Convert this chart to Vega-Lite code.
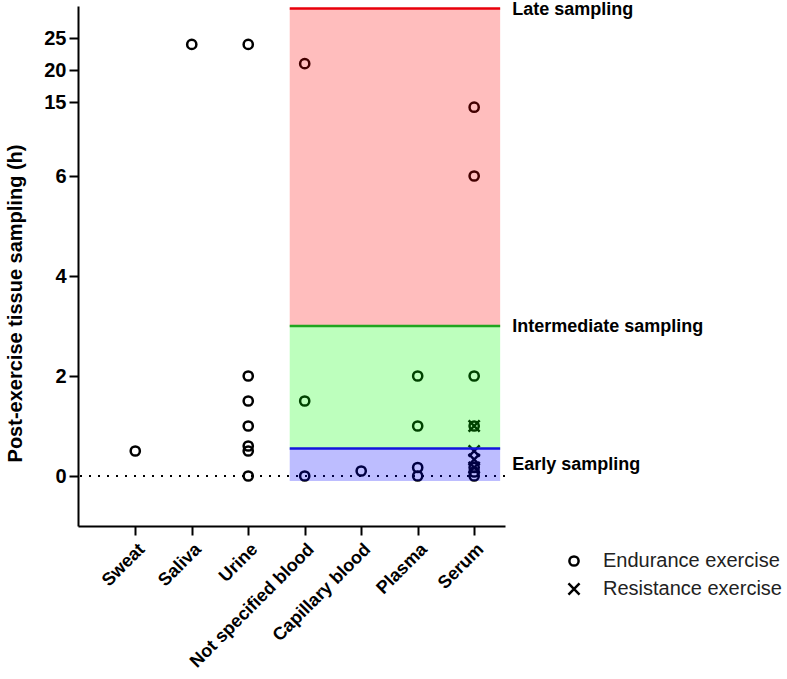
{
  "$schema": "https://vega.github.io/schema/vega-lite/v6.json",
  "width": 427,
  "height": 520,
  "autosize": {"type": "none"},
  "padding": {"left": 78, "top": 6, "right": 282, "bottom": 153},
  "background": "white",
  "config": {
    "font": "Liberation Sans",
    "view": {"stroke": null},
    "axis": {
      "domainColor": "black",
      "domainWidth": 2,
      "tickColor": "black",
      "tickWidth": 2,
      "tickSize": 9,
      "grid": false,
      "labelColor": "black",
      "labelFont": "Liberation Sans",
      "labelFontWeight": "bold",
      "labelFontSize": 20,
      "labelLimit": 400,
      "titleColor": "black",
      "titleFont": "Liberation Sans",
      "titleFontWeight": "bold",
      "titleFontSize": 20
    }
  },
  "datasets": {
    "points": [
      {"tissue": "Sweat", "hours": 0.5, "exercise": "Endurance exercise"},
      {"tissue": "Saliva", "hours": 24, "exercise": "Endurance exercise"},
      {"tissue": "Urine", "hours": 24, "exercise": "Endurance exercise"},
      {"tissue": "Urine", "hours": 2, "exercise": "Endurance exercise"},
      {"tissue": "Urine", "hours": 1.5, "exercise": "Endurance exercise"},
      {"tissue": "Urine", "hours": 1, "exercise": "Endurance exercise"},
      {"tissue": "Urine", "hours": 0.6, "exercise": "Endurance exercise"},
      {"tissue": "Urine", "hours": 0.5, "exercise": "Endurance exercise"},
      {"tissue": "Urine", "hours": 0, "exercise": "Endurance exercise"},
      {"tissue": "Not specified blood", "hours": 21, "exercise": "Endurance exercise"},
      {"tissue": "Not specified blood", "hours": 1.5, "exercise": "Endurance exercise"},
      {"tissue": "Not specified blood", "hours": 0, "exercise": "Endurance exercise"},
      {"tissue": "Capillary blood", "hours": 0.1, "exercise": "Endurance exercise"},
      {"tissue": "Plasma", "hours": 2, "exercise": "Endurance exercise"},
      {"tissue": "Plasma", "hours": 1, "exercise": "Endurance exercise"},
      {"tissue": "Plasma", "hours": 0.17, "exercise": "Endurance exercise"},
      {"tissue": "Plasma", "hours": 0, "exercise": "Endurance exercise"},
      {"tissue": "Serum", "hours": 14.2, "exercise": "Endurance exercise"},
      {"tissue": "Serum", "hours": 6, "exercise": "Endurance exercise"},
      {"tissue": "Serum", "hours": 2, "exercise": "Endurance exercise"},
      {"tissue": "Serum", "hours": 1, "exercise": "Endurance exercise"},
      {"tissue": "Serum", "hours": 0.17, "exercise": "Endurance exercise"},
      {"tissue": "Serum", "hours": 0.08, "exercise": "Endurance exercise"},
      {"tissue": "Serum", "hours": 0, "exercise": "Endurance exercise"},
      {"tissue": "Serum", "hours": 1, "exercise": "Resistance exercise"},
      {"tissue": "Serum", "hours": 0.5, "exercise": "Resistance exercise"},
      {"tissue": "Serum", "hours": 0.33, "exercise": "Resistance exercise"},
      {"tissue": "Serum", "hours": 0.17, "exercise": "Resistance exercise"}
    ],
    "zones": [
      {"zone": "Late sampling", "from": "Not specified blood", "to": "Serum", "low": 3, "high": 29.6, "labelAt": 29.4},
      {"zone": "Intermediate sampling", "from": "Not specified blood", "to": "Serum", "low": 0.55, "high": 3, "labelAt": 2.98},
      {"zone": "Early sampling", "from": "Not specified blood", "to": "Serum", "low": -0.1, "high": 0.55, "labelAt": 0.22}
    ],
    "baseline": [{"hours": 0}]
  },
  "layer": [
    {
      "data": {"name": "baseline"},
      "mark": {"type": "rule", "strokeDash": [2, 7], "strokeWidth": 2.2, "color": "black"},
      "encoding": {
        "y": {"field": "hours", "type": "quantitative"}
      }
    },
    {
      "data": {"name": "points"},
      "mark": {"type": "point", "filled": false, "strokeWidth": 2.5, "size": 85, "color": "black", "opacity": 1},
      "encoding": {
        "x": {
          "field": "tissue",
          "type": "nominal",
          "title": null,
          "scale": {
            "type": "point",
            "domain": ["Sweat", "Saliva", "Urine", "Not specified blood", "Capillary blood", "Plasma", "Serum"],
            "padding": 0.78,
            "align": 0.65
          },
          "axis": {"labelAngle": -45, "labelPadding": 5, "labelFontSize": 18}
        },
        "y": {
          "field": "hours",
          "type": "quantitative",
          "title": "Post-exercise tissue sampling (h)",
          "scale": {"domain": [-1, 7.1, 13.3, 30], "range": [520, 115, 107, 0], "nice": false, "zero": false},
          "axis": {"values": [0, 2, 4, 6, 15, 20, 25], "labelPadding": 3, "titlePadding": 18, "titleY": 297}
        },
        "shape": {
          "field": "exercise",
          "type": "nominal",
          "scale": {
            "domain": ["Endurance exercise", "Resistance exercise"],
            "range": ["circle", "M-1.2,-1.2L1.2,1.2M-1.2,1.2L1.2,-1.2"]
          },
          "legend": {
            "title": null,
            "orient": "none",
            "legendX": 486,
            "legendY": 545,
            "labelFont": "Liberation Sans",
            "labelFontSize": 20,
            "labelColor": "#222222",
            "labelLimit": 400,
            "labelOffset": 19,
            "rowPadding": 7,
            "symbolSize": 85,
            "symbolStrokeWidth": 2.5,
            "symbolStrokeColor": "black",
            "symbolFillColor": "transparent"
          }
        }
      }
    },
    {
      "data": {"name": "zones"},
      "mark": {"type": "rect", "opacity": 0.26, "xOffset": -15, "x2Offset": 26},
      "encoding": {
        "x": {"field": "from", "type": "nominal"},
        "x2": {"field": "to"},
        "y": {"field": "low", "type": "quantitative"},
        "y2": {"field": "high"},
        "fill": {
          "field": "zone",
          "type": "nominal",
          "scale": {"domain": ["Late sampling", "Intermediate sampling", "Early sampling"], "range": ["#ff0000", "#00ff00", "#0000ff"]},
          "legend": null
        }
      }
    },
    {
      "data": {"name": "zones"},
      "mark": {"type": "rule", "strokeWidth": 2.5, "xOffset": -15, "x2Offset": 26},
      "encoding": {
        "x": {"field": "from", "type": "nominal"},
        "x2": {"field": "to"},
        "y": {"field": "high", "type": "quantitative"},
        "stroke": {
          "field": "zone",
          "type": "nominal",
          "scale": {"domain": ["Late sampling", "Intermediate sampling", "Early sampling"], "range": ["#e8000b", "#1fa51f", "#1414dc"]},
          "legend": null
        }
      }
    },
    {
      "data": {"name": "zones"},
      "mark": {"type": "text", "align": "left", "baseline": "middle", "dx": 38, "font": "Liberation Sans", "fontWeight": "bold", "fontSize": 18, "color": "black"},
      "encoding": {
        "x": {"field": "to", "type": "nominal"},
        "y": {"field": "labelAt", "type": "quantitative"},
        "text": {"field": "zone"}
      }
    }
  ]
}
